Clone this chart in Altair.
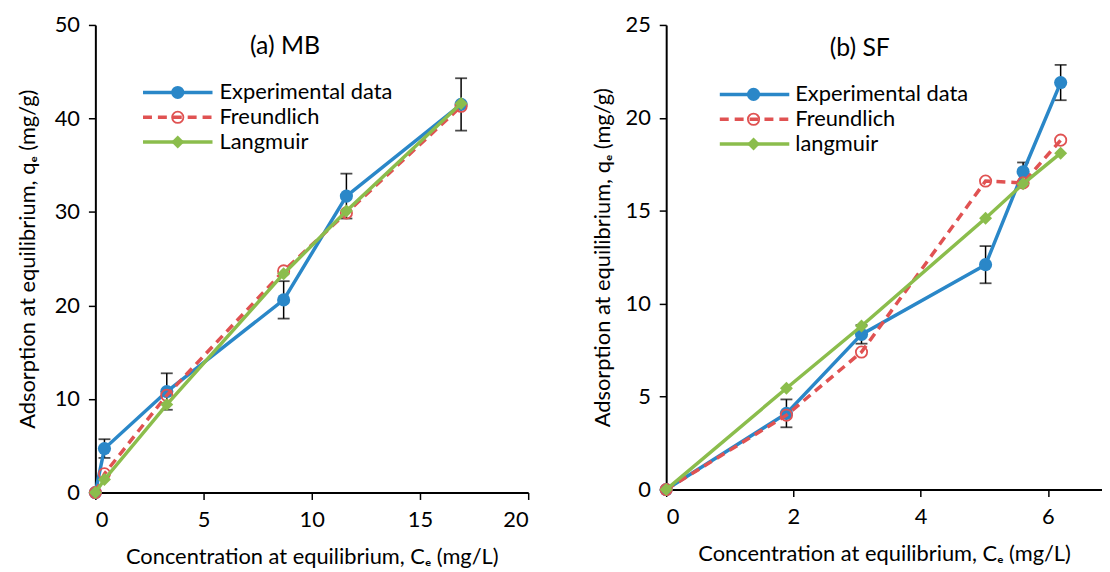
import altair as alt
import pandas as pd

# ---------------- data ----------------
mb_ce = [0, 0.42, 3.3, 8.7, 11.6, 16.9]
mb_exp = [0, 4.7, 10.8, 20.6, 31.7, 41.5]
mb_err = [0, 1.0, 1.95, 2.0, 2.4, 2.8]
mb_freundlich = [0, 2.0, 10.4, 23.7, 29.9, 41.3]
mb_langmuir = [0, 1.4, 9.4, 23.4, 30.1, 41.6]

sf_ce = [0, 1.89, 3.07, 5.02, 5.61, 6.2]
sf_exp = [0, 4.1, 8.35, 12.1, 17.1, 21.9]
sf_err = [0, 0.75, 0.5, 1.0, 0.5, 0.95]
sf_freundlich = [0, 4.0, 7.4, 16.6, 16.5, 18.8]
sf_langmuir = [0, 5.45, 8.8, 14.6, 16.45, 18.1]

mb_labels = ["Experimental data", "Freundlich", "Langmuir"]
sf_labels = ["Experimental data", "Freundlich", "langmuir"]

mb_xticks = [0, 5, 10, 15, 20]
mb_yticks = [0, 10, 20, 30, 40, 50]
sf_xticks = [0, 2, 4, 6]
sf_yticks = [0, 5, 10, 15, 20, 25]

FONT = "Lato, DejaVu Sans, sans-serif"
BLUE = "#2A87C8"
RED = "#E05252"
GREEN = "#8BBD4C"
LW = 3.5
DASH = [9, 6]
XTITLE = "Concentration at equilibrium, C\u2091 (mg/L)"
YTITLE = "Adsorption at equilibrium, q\u2091 (mg/g)"


def panel(ce, exp, err, fr, la, xdom, xticks, ydom, yticks, width, height,
          title, tpos, labels, leg, ytitle_pad):
    df = pd.DataFrame({"ce": ce, "exp": exp, "err": err, "fr": fr, "la": la})
    base = alt.Chart(df)

    def X():
        return alt.X("ce:Q", scale=alt.Scale(domain=xdom, nice=False, zero=False),
                     axis=alt.Axis(values=xticks, title=XTITLE, labelPadding=10,
                                   titlePadding=16))

    def Y(field):
        return alt.Y(field, scale=alt.Scale(domain=ydom, nice=False, zero=False),
                     axis=alt.Axis(values=yticks, title=YTITLE, labelPadding=9,
                                   titlePadding=ytitle_pad))

    eb = base.transform_filter("datum.err > 0").transform_calculate(
        lo="datum.exp - datum.err", hi="datum.exp + datum.err")
    err_rule = eb.mark_rule(color="black", strokeWidth=1.5).encode(
        x=X(), y=Y("lo:Q"), y2="hi:Q")
    err_caps = eb.transform_fold(["lo", "hi"]).mark_tick(
        color="black", thickness=1.8, size=12, orient="horizontal").encode(
        x=X(), y=Y("value:Q"))

    exp_line = base.mark_line(color=BLUE, strokeWidth=LW).encode(x=X(), y=Y("exp:Q"))
    exp_pts = base.mark_point(shape="circle", filled=True, color=BLUE, size=175,
                              opacity=1).encode(x=X(), y=Y("exp:Q"))
    fr_line = base.mark_line(color=RED, strokeWidth=LW, strokeDash=DASH).encode(
        x=X(), y=Y("fr:Q"))
    fr_pts = base.mark_point(shape="circle", filled=False, color=RED, size=130,
                             strokeWidth=1.8, opacity=1).encode(x=X(), y=Y("fr:Q"))
    la_line = base.mark_line(color=GREEN, strokeWidth=LW).encode(x=X(), y=Y("la:Q"))
    la_pts = base.mark_point(shape="diamond", filled=True, color=GREEN, size=170,
                             opacity=1).encode(x=X(), y=Y("la:Q"))

    one = alt.Chart(pd.DataFrame({"k": [0]}))
    x0, x1, xm, xt, ys = leg
    styles = [
        (BLUE, None, dict(shape="circle", filled=True, size=175)),
        (RED, DASH, dict(shape="circle", filled=False, size=130, strokeWidth=1.8)),
        (GREEN, None, dict(shape="diamond", filled=True, size=170)),
    ]
    legend_layers = []
    for lab, yy, (col, dash, pt) in zip(labels, ys, styles):
        rk = dict(color=col, strokeWidth=LW)
        if dash:
            rk["strokeDash"] = dash
        legend_layers.append(one.mark_rule(**rk).encode(
            x=alt.value(x0), x2=alt.value(x1), y=alt.value(yy)))
        legend_layers.append(one.mark_point(color=col, opacity=1, **pt).encode(
            x=alt.value(xm), y=alt.value(yy)))
        legend_layers.append(one.mark_text(
            align="left", baseline="middle", font=FONT, fontSize=22,
            color="black").encode(
            x=alt.value(xt), y=alt.value(yy), text=alt.value(lab)))

    title_mark = one.mark_text(align="center", baseline="middle", font=FONT,
                               fontSize=25, color="black").encode(
        x=alt.value(tpos[0]), y=alt.value(tpos[1]), text=alt.value(title))

    return alt.layer(err_rule, err_caps, exp_line, exp_pts, fr_line, fr_pts,
                     la_line, la_pts, title_mark, *legend_layers).properties(
        width=width, height=height)


left = panel(mb_ce, mb_exp, mb_err, mb_freundlich, mb_langmuir,
             [0, 20], mb_xticks, [0, 50], mb_yticks, 436, 471,
             "(a) MB", (191, 21), mb_labels, (48, 118, 83, 125, [68, 93, 118]), 15)
right = panel(sf_ce, sf_exp, sf_err, sf_freundlich, sf_langmuir,
              [0, 6.85], sf_xticks, [0, 25], sf_yticks, 439, 468,
              "(b) SF", (195, 23), sf_labels, (54, 124, 88, 130, [70, 95, 120]), 11)

chart = alt.hconcat(left, right, spacing=139, bounds="flush").properties(
    padding={"left": 8, "top": 4, "right": 0, "bottom": 5}
).configure_view(stroke=None).configure_axis(
    grid=False,
    domainColor="black", domainWidth=2,
    tickColor="black", tickWidth=1.5, tickSize=7,
    labelFont=FONT, labelFontSize=22, labelColor="black",
    titleFont=FONT, titleFontSize=22, titleFontWeight="normal", titleColor="black",
)

chart.save("out.html", embed_options={"renderer": "svg", "actions": False})
